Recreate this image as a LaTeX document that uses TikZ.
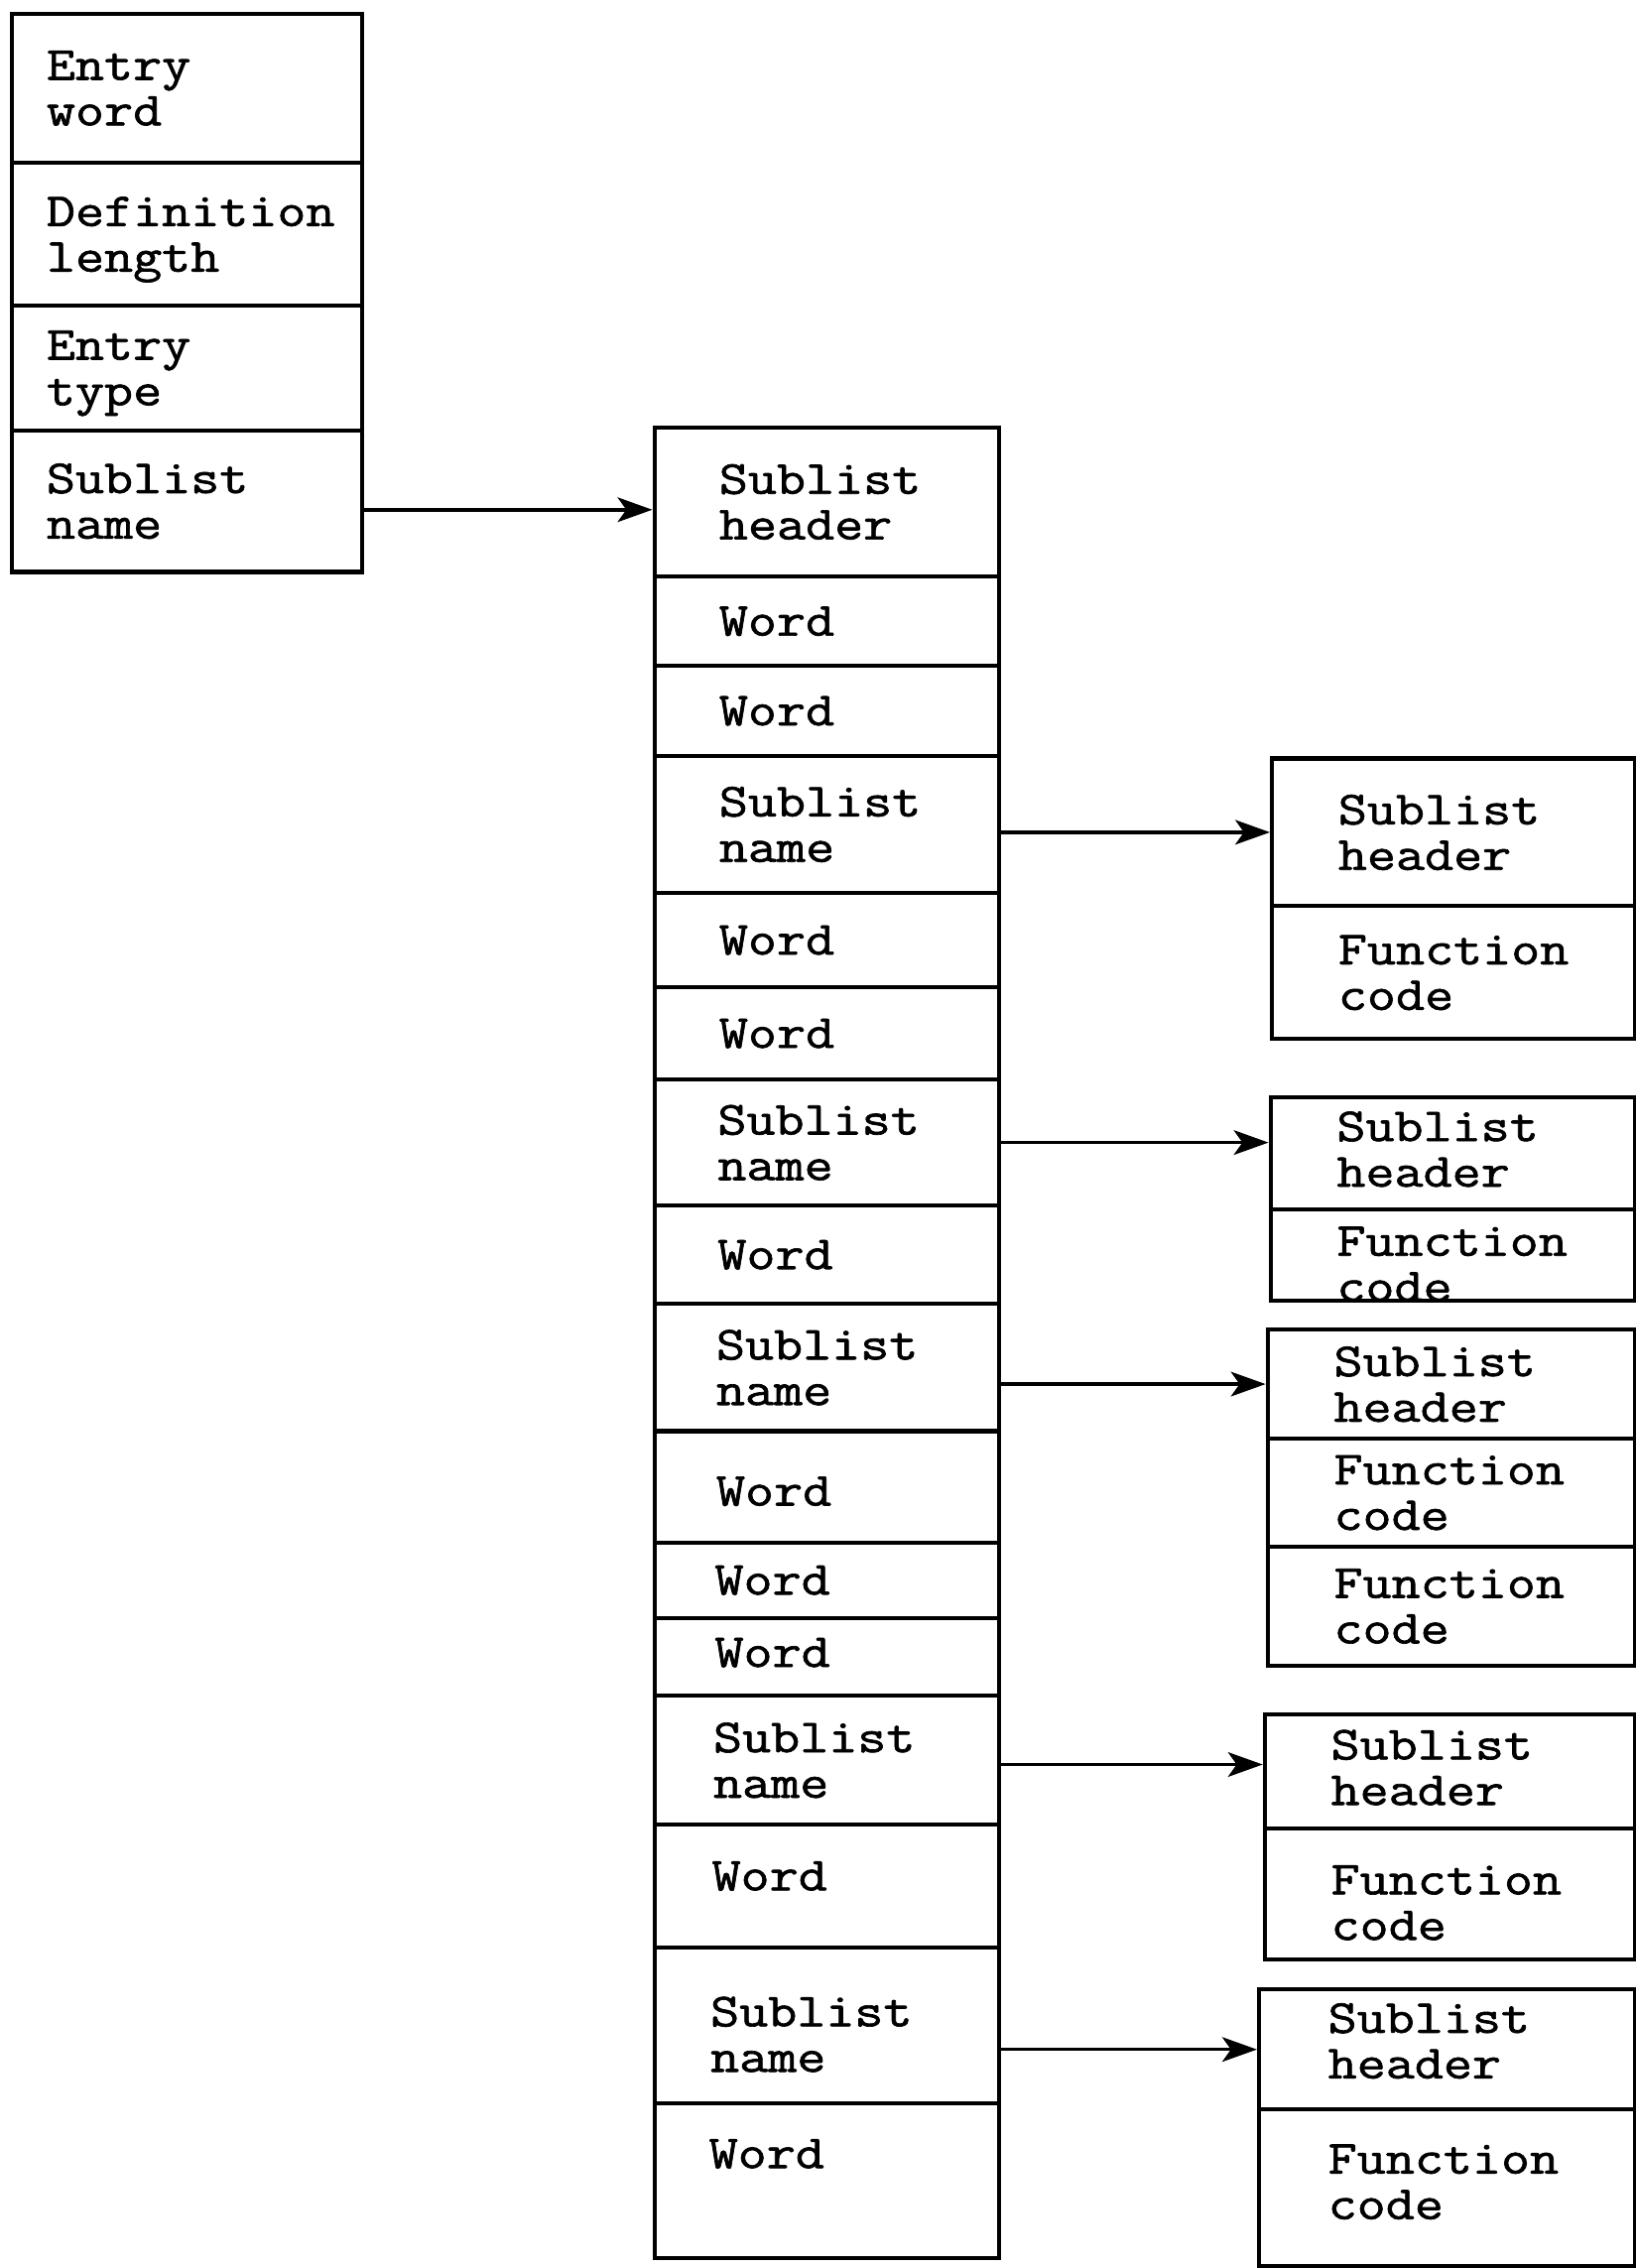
\documentclass[tikz,border=0pt]{standalone}
\usepackage{fontspec}
\newfontfamily\tw[FakeStretch=1.18,FakeBold=1.4]{Latin Modern Mono}
\usetikzlibrary{arrows.meta,calc}
\tikzset{
  cell/.style={draw, line width=2.8pt, rectangle, inner sep=0pt, anchor=north west},
  lbl/.style={font=\tw\fontsize{32.8}{31.5}\selectfont, align=left, anchor=west, inner sep=0pt, text depth=0pt},
  arr/.style={line width=2.4pt, -{Stealth[length=24pt,width=17pt,inset=6pt]}},
}
\begin{document}
\begin{tikzpicture}[x=1pt,y=-1pt]
\useasboundingbox[fill=white] (0,0) rectangle (1131,1568);
% left column
\node[cell, minimum width=242, minimum height=103] (l0) at (7,8) {};
\node[cell, minimum width=242, minimum height=99] (l1) at (7,111) {};
\node[cell, minimum width=242, minimum height=86] (l2) at (7,210) {};
\node[cell, minimum width=242, minimum height=98] (l3) at (7,296) {};
\node[lbl] (tl0) at ([xshift=25pt]l0.west) {Entry\\word};
\node[lbl] (tl1) at ([xshift=25pt]l1.west) {Definition\\length};
\node[lbl] (tl2) at ([xshift=25pt]l2.west) {Entry\\type};
\node[lbl] (tl3) at ([xshift=25pt]l3.west) {Sublist\\name};
% middle column
\node[cell, minimum width=238, minimum height=103] (m0) at (451,294) {};
\node[cell, minimum width=238, minimum height=62] (m1) at (451,397) {};
\node[cell, minimum width=238, minimum height=62] (m2) at (451,459) {};
\node[cell, minimum width=238, minimum height=95] (m3) at (451,521) {};
\node[cell, minimum width=238, minimum height=65] (m4) at (451,616) {};
\node[cell, minimum width=238, minimum height=64] (m5) at (451,681) {};
\node[cell, minimum width=238, minimum height=87] (m6) at (451,745) {};
\node[cell, minimum width=238, minimum height=68] (m7) at (451,832) {};
\node[cell, minimum width=238, minimum height=88] (m8) at (451,900) {};
\node[cell, minimum width=238, minimum height=77] (m9) at (451,988) {};
\node[cell, minimum width=238, minimum height=52] (m10) at (451,1065) {};
\node[cell, minimum width=238, minimum height=54] (m11) at (451,1117) {};
\node[cell, minimum width=238, minimum height=89] (m12) at (451,1171) {};
\node[cell, minimum width=238, minimum height=85] (m13) at (451,1260) {};
\node[cell, minimum width=238, minimum height=108] (m14) at (451,1345) {};
\node[cell, minimum width=238, minimum height=107] (m15) at (451,1453) {};
\node[lbl] (tm0) at ([xshift=46pt]m0.west) {Sublist\\header};
\node[lbl] (tm1) at ([xshift=46pt]m1.west) {Word};
\node[lbl] (tm2) at ([xshift=46pt]m2.west) {Word};
\node[lbl] (tm3) at ([xshift=46pt]m3.west) {Sublist\\name};
\node[lbl] (tm4) at ([xshift=46pt]m4.west) {Word};
\node[lbl] (tm5) at ([xshift=46pt]m5.west) {Word};
\node[lbl] (tm6) at ([xshift=45pt]m6.west) {Sublist\\name};
\node[lbl] (tm7) at ([xshift=45pt]m7.west) {Word};
\node[lbl] (tm8) at ([xshift=44pt]m8.west) {Sublist\\name};
\node[lbl] (tm9) at ([xshift=44pt,yshift=-3pt]m9.west) {Word};
\node[lbl] (tm10) at ([xshift=43pt]m10.west) {Word};
\node[lbl] (tm11) at ([xshift=43pt,yshift=3pt]m11.west) {Word};
\node[lbl] (tm12) at ([xshift=42pt]m12.west) {Sublist\\name};
\node[lbl] (tm13) at ([xshift=41pt,yshift=7pt]m13.west) {Word};
\node[lbl] (tm14) at ([xshift=40pt,yshift=-6pt]m14.west) {Sublist\\name};
\node[lbl] (tm15) at ([xshift=39pt,yshift=19pt]m15.west) {Word};
% right boxes
\node[cell, minimum width=251, minimum height=102] (r1a) at (878,523) {};
\node[cell, minimum width=251, minimum height=92] (r1b) at (878,625) {};
\node[cell, minimum width=252, minimum height=78] (r2a) at (877,757) {};
\node[cell, minimum width=252, minimum height=63] (r2b) at (877,835) {};
\node[cell, minimum width=254, minimum height=75] (r3a) at (875,918) {};
\node[cell, minimum width=254, minimum height=75] (r3b) at (875,993) {};
\node[cell, minimum width=254, minimum height=82] (r3c) at (875,1068) {};
\node[cell, minimum width=256, minimum height=79] (r4a) at (873,1184) {};
\node[cell, minimum width=256, minimum height=90] (r4b) at (873,1263) {};
\node[cell, minimum width=260, minimum height=83] (r5a) at (869,1374) {};
\node[cell, minimum width=260, minimum height=108] (r5b) at (869,1457) {};
\node[lbl] (tr1a) at ([xshift=47pt]r1a.west) {Sublist\\header};
\node[lbl] (tr1b) at ([xshift=47pt]r1b.west) {Function\\code};
\node[lbl] (tr2a) at ([xshift=47pt,yshift=3pt]r2a.west) {Sublist\\header};
\node[lbl] (tr2b) at ([xshift=47pt,yshift=-6pt]r2b.west) {Function\\code};
\node[lbl] (tr3a) at ([xshift=47pt]r3a.west) {Sublist\\header};
\node[lbl] (tr3b) at ([xshift=47pt]r3b.west) {Function\\code};
\node[lbl] (tr3c) at ([xshift=47pt]r3c.west) {Function\\code};
\node[lbl] (tr4a) at ([xshift=47pt,yshift=3pt]r4a.west) {Sublist\\header};
\node[lbl] (tr4b) at ([xshift=47pt,yshift=-6pt]r4b.west) {Function\\code};
\node[lbl] (tr5a) at ([xshift=49pt,yshift=6pt]r5a.west) {Sublist\\header};
\node[lbl] (tr5b) at ([xshift=49pt,yshift=4pt]r5b.west) {Function\\code};
% arrows
\draw[arr] ([yshift=-6pt]l3.east) -- ([yshift=-6pt]l3.east -| m0.west);
\draw[arr] (m3.east |- r1a.west) -- (r1a.west);
\draw[arr] (m6.east) -- (m6.east -| r2a.west);
\draw[arr] (m8.east |- r3a.west) -- (r3a.west);
\draw[arr] ([yshift=-3pt]m12.east) -- ([yshift=-3pt]m12.east -| r4a.west);
\draw[arr] (m14.east |- r5a.west) -- (r5a.west);
\end{tikzpicture}
\end{document}
